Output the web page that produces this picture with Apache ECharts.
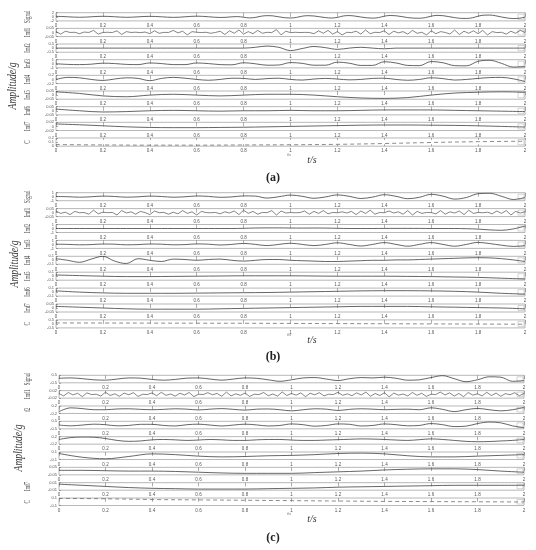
<!DOCTYPE html>
<html>
<head>
<meta charset="utf-8">
<script src="https://cdn.jsdelivr.net/npm/echarts@6/dist/echarts.min.js"></script>
<style>
html, body { margin: 0; padding: 0; background: #fff; }
#chart { width: 536px; height: 550px; }
</style>
</head>
<body>
<div id="chart"></div>
<script>
// ---- panel (a) ----
const rowsA = ['Signal', 'Imf1', 'Imf2', 'Imf3', 'Imf4', 'Imf5', 'Imf6', 'Imf7', 'C'];
const yMaxA = [2, 0.05, 0.5, 1, 0.2, 0.05, 0.05, 0.02, 0.2];
const yMinA = [-2, -0.05, -0.5, -1, -0.2, -0.05, -0.05, -0.02, 0];
const sigA = [0.2,0.15,0,-0.15,-0.22,-0.16,0,0.17,0.25,0.18,0.02,-0.15,-0.25,-0.18,-0.02,0.15,0.22,0.16,0,-0.18,-0.28,-0.2,0,0.2,0.3,0.22,0.02,-0.2,-0.32,-0.25,0,0.1,-0.2,-0.55,-0.3,0.3,0.55,0.45,0,-0.45,-0.6,-0.3,0.3,0.55,0.4,0,-0.4,-0.6,-0.3,0.4,0.6,0.35,-0.1,-0.5,-0.65,-0.4,0.3,0.65,0.5,0.1,-0.4,-0.65,-0.7,-0.4,0.3,0.7,0.55,0.1,-0.4,-0.75,-0.8,-0.5,0.3,0.8,0.85,0.5,-0.1,-0.6,-0.85,-0.7,-0.2];
const imf1A = [0.01,-0.02,0.015,0,0.002,-0.015,0.005,0,0.025,-0.02,0,0.002,-0.001,0.02,-0.025,0.01,0,0.003,-0.002,0.005,-0.015,0.02,-0.01,0.001,0,0.025,-0.005,0.015,-0.03,0.01,0.002,-0.001,0.002,-0.01,0,0.015,-0.025,0.02,-0.01,0.03,-0.02,0.01,-0.015,0.025,-0.01,0.002,-0.002,0.035,-0.03,0.015,-0.002,0.002,-0.001,0.001,0,-0.015,0.02,-0.01,0.025,-0.02,0.01,-0.03,0.002,-0.002,0.015,-0.02,0.03,-0.015,0.002,-0.001,0.02,-0.025,0.015,-0.005,0.01,-0.02,0.025,-0.01,0.002,-0.03,0.02,-0.015,0.01,0,-0.02,0.03,-0.025,0.015,-0.01,0.02,-0.015,0.025,-0.03,0.01,-0.002,0.002,-0.02,0.015,-0.01,0.025,0];
const imf2A = [0,0,0,0,0,0,0,0,0,0,0,0,0,0,0,0,0,0.1,0.25,0.1,-0.3,-0.05,0.2,0.05,-0.15,0,0.1,0,-0.08,0,0,0,0,0,0,0,0,0,0,0,0];
const imf3A = [0,-0.15,-0.2,-0.1,0.15,0.05,-0.15,-0.2,0.2,0.05,-0.2,-0.2,0.2,0.05,-0.2,-0.25,0.25,0,-0.35,-0.3,0.3,0.1,-0.35,-0.35,0.4,0.15,-0.4,-0.4,0.5,0.2,-0.4,-0.45,0.55,0.25,-0.45,-0.5,0.6,0.85,0.1,-0.8,-0.7];
const imf4A = [0,0.1,0.08,0,-0.05,0.02,0.08,0.05,-0.06,0.05,0.1,0.06,0,-0.04,0,0.06,0.05,0,0.04,0.06,0,-0.03,0.02,0.05,0.02,-0.02,0,0.05,0.06,0,-0.04,0,0.08,0.04,-0.03,0,0.05,0.09,0.1,0.03,-0.1];
const imf5A = [0.04,0.02,-0.01,-0.02,0,0.01,0,-0.01,0,0.01,0.01,0,-0.02,-0.035,-0.04,-0.03,0,0.025,0.035,0.04,0.035];
const imf6A = [0.02,0,-0.015,-0.01,0,0.005,0,-0.005,0,0,0.005,0,0,0.005,0.01,0.01,0.01,0.005,0,-0.005,-0.01];
const imf7A = [0.012,0.008,0.003,-0.002,-0.005,-0.006,-0.006,-0.005,-0.004,-0.002,0,0.002,0.004,0.006,0.007,0.007,0.006,0.005,0.003,0,-0.003];
const resA = [0.04,0.03,0.025,0.025,0.03,0.035,0.045,0.065,0.09,0.11,0.12];

// ---- panel (b) ----
const rowsB = ['Signal', 'Imf1', 'Imf2', 'Imf3', 'Imf4', 'Imf5', 'Imf6', 'Imf7', 'C'];
const yMaxB = [1, 0.05, 1, 1, 0.1, 0.1, 0.1, 0.05, 0.5];
const sigB = [0.05,0,-0.12,-0.02,0.15,0.05,-0.12,-0.03,0.15,0.05,-0.13,-0.02,0.18,0.08,-0.15,-0.05,0.2,0.15,-0.35,0,0.4,0.1,-0.4,-0.05,0.45,0.1,-0.45,-0.1,0.5,0.1,-0.5,-0.15,0.6,0.15,-0.6,-0.2,0.75,0.85,0.1,-0.7,-0.2];
const imf1B = [0.02,-0.01,0.005,-0.025,0.015,-0.002,0.001,-0.02,0.03,-0.015,0.005,-0.001,0.002,-0.03,0.025,-0.005,0.01,-0.02,0.015,0,-0.025,0.02,-0.001,0.002,-0.02,0.005,-0.015,0.025,-0.01,0.01,-0.03,0.015,0,-0.002,0.002,-0.015,0.01,-0.005,0.02,-0.025,0.03,-0.01,0.015,-0.02,0.002,-0.001,0.025,-0.03,0.02,-0.005,0.001,-0.002,0,0.02,-0.02,0.015,-0.01,0.025,-0.015,0.002,-0.002,0.01,-0.005,0.015,-0.025,0.02,-0.01,0.03,-0.02,0.001,-0.002,0.02,-0.005,0.01,-0.02,0.025,-0.03,0.015,-0.01,0.002,0,-0.015,0.025,-0.02,0.01,-0.005,0.02,-0.025,0.03,-0.01,0.002,-0.002,0.005,-0.015,0.02,-0.01,0.025,-0.03,0.015,-0.005,0.01];
const imf2B = [0,0,0,0,0,0,0,0,0,0,0,0,0,0,0,0,0.05,0.12,0.15,0.15,0.12,0.1,0.12,0.1,0.05,0,0,0,0.02,0.03,0.03,0.02,0,0,0,-0.05,-0.15,-0.35,-0.45,-0.1,0.6];
const imf3B = [0.05,0,-0.1,-0.05,0.1,0.05,-0.1,-0.05,0.1,0.05,-0.1,-0.05,0.12,0.05,-0.15,0,0.25,0,-0.3,0,0.3,0,-0.3,0,0.4,0,-0.4,0,0.45,0,-0.45,0,0.45,0,-0.45,0,0.5,0.2,-0.2,-0.5,-0.3];
const imf4B = [0.04,0,-0.05,0.03,0.1,-0.02,-0.08,0.04,0,-0.03,0.03,0.02,0,0.02,0.03,0,-0.02,0,0.02,0.02,0,-0.01,-0.02,-0.03,-0.03,-0.02,-0.01,0,0,0.01,0.01,0.02,0.03,0.04,0.05,0.06,0.065,0.06,0.04,0.01,-0.03];
const imf5B = [0.03,0.015,0,-0.01,-0.01,-0.005,0,0.005,0.01,0.01,0.01,0.005,0,0,0,-0.005,-0.01,-0.02,-0.03,-0.05,-0.07];
const imf6B = [0.03,0,-0.02,-0.03,-0.03,-0.03,-0.025,-0.02,-0.015,-0.01,0,0.01,0.02,0.03,0.035,0.035,0.03,0.02,0,-0.03,-0.05];
const imf7B = [0.02,0.01,0,-0.01,-0.015,-0.015,-0.015,-0.01,-0.005,0,0.005,0.01,0.015,0.02,0.02,0.02,0.015,0.01,0.005,0,-0.01];
const resB = [0.12,0.11,0.1,0.09,0.08,0.06,0.04,0.02,0,-0.02,-0.04];

// ---- panel (c) ----
const rowsC = ['Signal', 'Imf1', 'f2', '', '', '', '', 'Imf7', 'C'];
const yMaxC = [0.5, 0.02, 0.2, 0.5, 0.2, 0.1, 0.05, 0.01, 0.1];
const sigC = [0.1,0.15,0.05,-0.1,-0.15,0,0.15,0.12,-0.05,-0.15,-0.05,0.12,0.15,0,-0.15,0,0.15,0.1,-0.1,-0.3,-0.1,0.15,0.2,0,-0.2,0.05,0.2,0.15,0.25,0.1,-0.15,-0.1,0.2,0.45,0.05,-0.35,-0.1,0.3,0.25,-0.3,-0.2];
const imf1C = [0.004,-0.008,0.01,-0.003,0.006,-0.012,0.008,-0.001,0.001,-0.009,0.012,-0.006,0.003,-0.01,0.007,-0.002,0.009,-0.011,0.001,-0.001,0.008,-0.007,0.011,-0.005,0.002,-0.009,0.006,-0.003,0.01,-0.012,0.001,-0.001,0.009,-0.002,0.005,-0.01,0.012,-0.008,0.003,-0.005,0.007,-0.011,0.001,-0.001,0.01,-0.007,0.002,-0.009,0.013,-0.006,0.005,-0.004,0.008,-0.012,0.006,-0.002,0.009,-0.008,0.001,-0.001,0.011,-0.005,0.003,-0.007,0.008,-0.003,0.012,-0.01,0.005,-0.006,0.009,-0.013,0.007,-0.004,0.002,-0.008,0.01,-0.005,0.006,-0.011,0.001,-0.001,0.012,-0.003,0.008,-0.009,0.005,-0.012,0.01,-0.004,0.003,-0.008,0.011,-0.006,0.007,-0.01,0.004,-0.002,0.009,-0.007,0.005];
const imf2C = [-0.1,0.1,0.06,0,0,0.04,0.05,0.02,0,0.02,0.05,0.03,-0.01,0.03,0.06,0.02,-0.02,0.03,0.04,0,-0.06,0,0.05,0.03,-0.04,0.02,0.05,0.03,0,0.02,0.03,0,0.1,0.02,-0.1,0,0.07,0,-0.06,0,0.12];
const imf3C = [0,-0.1,0,0.12,0.05,-0.1,-0.05,0.1,0.1,-0.05,-0.12,0.05,0.12,0,-0.12,0,0.12,0.02,-0.12,-0.05,0.15,0.05,-0.15,-0.05,0.15,0.1,-0.12,-0.05,0.15,0.05,-0.1,-0.05,0.2,0.05,-0.2,-0.15,0.2,0.4,0.3,-0.1,-0.35];
const imf4C = [0.05,0.15,0.18,0.17,0.1,0,-0.05,-0.03,0.03,0.05,0.03,0,0.02,0.05,0.03,0,0,0.03,0.05,0.05,0.02,0,0,0.02,0.04,0.06,0.08,0.07,0.05,0.02,0,0.04,0.08,0.05,0,-0.05,-0.07,-0.06,-0.03,0,0.05];
const imf5C = [0.06,-0.04,-0.08,-0.02,0.05,0.03,-0.01,-0.03,-0.02,0,0.01,0.03,0.06,0.07,0.05,0,-0.03,-0.03,-0.01,0.01,0.03];
const imf6C = [0.01,0.01,0.005,0,0,-0.005,-0.015,-0.025,-0.03,-0.03,-0.03,-0.02,-0.01,0,0.015,0.025,0.03,0.03,0.02,0,-0.015];
const imf7C = [0.006,0.003,0,-0.003,-0.005,-0.006,-0.007,-0.007,-0.007,-0.006,-0.005,-0.004,-0.002,-0.001,0,0.001,0.002,0.003,0.003,0.003,0.003];
const resC = [0.09,0.08,0.06,0.05,0.04,0.03,0.02,0.01,0.005,0,-0.005];

const panels = [
  { rows: rowsA, max: yMaxA, min: yMinA, data: [sigA, imf1A, imf2A, imf3A, imf4A, imf5A, imf6A, imf7A, resA],
    left: 56, right: 11, top: 12.7, pitch: 15.66, h: 8.2, tag: '(a)', tagY: 178, ampY: 86, ampX: 13, tsY: 160 },
  { rows: rowsB, max: yMaxB, data: [sigB, imf1B, imf2B, imf3B, imf4B, imf5B, imf6B, imf7B, resB],
    left: 56, right: 11, top: 192.7, pitch: 15.9, h: 8, tag: '(b)', tagY: 357, ampY: 264, ampX: 15, tsY: 340 },
  { rows: rowsC, max: yMaxC, data: [sigC, imf1C, imf2C, imf3C, imf4C, imf5C, imf6C, imf7C, resC],
    left: 59, right: 12, top: 375.3, pitch: 15.34, h: 7.5, tag: '(c)', tagY: 538, ampY: 448, ampX: 19, tsY: 519 }
];

function toPairs(arr) {
  const n = arr.length;
  return arr.map((v, i) => [2 * i / (n - 1), v]);
}

const grid = [], xAxis = [], xTop = [], yAxis = [], series = [], graphic = [];
const tickStyle = { inside: true, length: 2, lineStyle: { color: '#777', width: 0.6 } };

panels.forEach(p => {
  p.data.forEach((arr, r) => {
    const gi = grid.length;
    const top = p.top + r * p.pitch;
    grid.push({ left: p.left, right: p.right, top: top, height: p.h, show: true,
      borderColor: '#9a9a9a', borderWidth: 0.7 });
    xAxis.push({ type: 'value', gridIndex: gi, min: 0, max: 2, interval: 0.2,
      axisLine: { show: false }, splitLine: { show: false }, axisTick: tickStyle,
      axisLabel: { margin: 2.5, fontSize: 4.5, color: '#555', fontFamily: 'Liberation Sans',
        hideOverlap: false, formatter: v => String(+v.toFixed(1)) } });
    xTop.push({ type: 'value', gridIndex: gi, min: 0, max: 2, interval: 0.2, position: 'top',
      axisLine: { show: false }, splitLine: { show: false }, axisLabel: { show: false },
      axisTick: tickStyle });
    const mx = p.max[r];
    const mn = p.min ? p.min[r] : -mx;
    yAxis.push({ type: 'value', gridIndex: gi, min: mn, max: mx, interval: (mx - mn) / 2,
      axisLine: { show: false }, splitLine: { show: false }, axisTick: tickStyle,
      axisLabel: { margin: 2, fontSize: 4, lineHeight: 4, color: '#555', fontFamily: 'Liberation Sans',
        hideOverlap: false, showMinLabel: true, showMaxLabel: true,
        formatter: v => String(+v.toFixed(3)) } });
    const isNoise = r === 1, isRes = r === 8;
    series.push({ type: 'line', xAxisIndex: gi, yAxisIndex: gi, data: toPairs(arr),
      showSymbol: false, silent: true, smooth: isNoise ? false : 0.35, clip: true,
      lineStyle: { color: isRes ? '#666' : '#333', width: isNoise ? 0.6 : 0.75,
        type: isRes ? [4, 3] : 'solid' } });
    if (p.rows[r]) {
      graphic.push({ type: 'text', x: 28, y: top + p.h / 2, rotation: Math.PI / 2, scaleX: 0.65, silent: true,
        style: { text: p.rows[r], fontSize: 7.5, fontFamily: 'Liberation Serif', fill: '#444',
          align: 'center', verticalAlign: 'middle' } });
    }
    // small legend box at the right end
    graphic.push({ type: 'rect', silent: true,
      shape: { x: 536 - p.right - 7, y: top + 1.5, width: 6, height: p.h - 3 },
      style: { fill: '#fff', stroke: '#aaa', lineWidth: 0.5 } });
  });
  graphic.push({ type: 'text', x: p.ampX, y: p.ampY, rotation: Math.PI / 2, scaleX: 0.8, silent: true,
    style: { text: 'Amplitude/g', fontSize: 12, fontStyle: 'italic', fontFamily: 'Liberation Serif',
      fill: '#333', align: 'center', verticalAlign: 'middle' } });
  graphic.push({ type: 'text', x: 312, y: p.tsY, silent: true,
    style: { text: 't/s', fontSize: 10, fontStyle: 'italic', fontFamily: 'Liberation Serif',
      fill: '#333', align: 'center', verticalAlign: 'middle' } });
  graphic.push({ type: 'text', x: 289, y: p.tsY - 5, silent: true,
    style: { text: 't/s', fontSize: 4, fontFamily: 'Liberation Sans', fill: '#777',
      align: 'center', verticalAlign: 'middle' } });
  graphic.push({ type: 'text', x: 273, y: p.tagY, silent: true,
    style: { text: p.tag, fontSize: 12, fontWeight: 'bold', fontFamily: 'Liberation Serif',
      fill: '#222', align: 'center', verticalAlign: 'middle' } });
});

const chart = echarts.init(document.getElementById('chart'), null, { renderer: 'canvas' });
chart.setOption({
  animation: false,
  backgroundColor: '#fff',
  grid: grid,
  xAxis: xAxis.concat(xTop),
  yAxis: yAxis,
  series: series,
  graphic: graphic
});
</script>
</body>
</html>
